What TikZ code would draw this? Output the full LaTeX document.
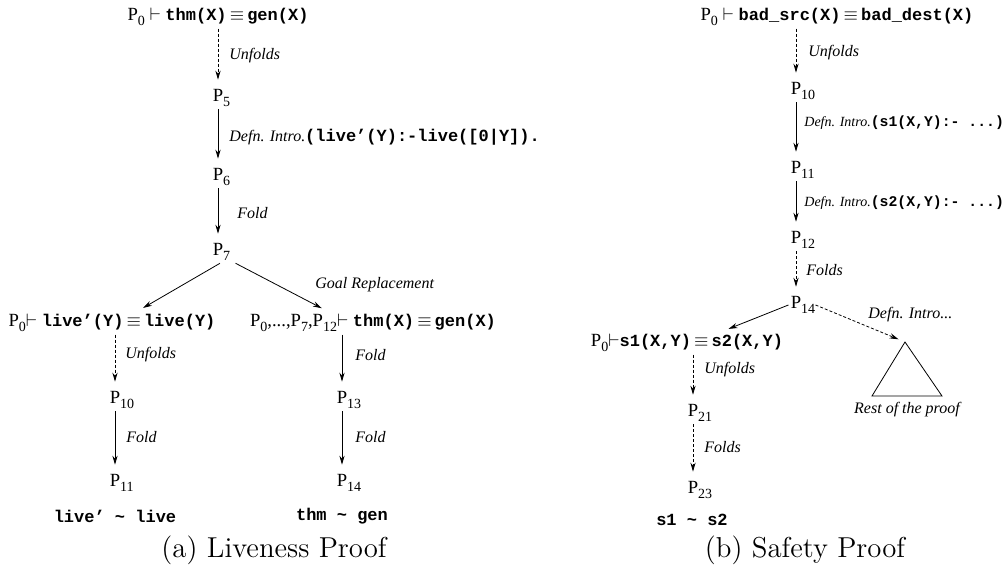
\documentclass[tikz,border=0pt]{standalone}
\usepackage{fontspec}
\usepackage{amsmath}
\usetikzlibrary{arrows.meta}

\newfontfamily\tms{Liberation Serif}
\newfontfamily\crr{Liberation Mono}
\newcommand\cd[1]{{\crr\upshape\bfseries\fontsize{8.5}{10}\selectfont #1}}
\newcommand\cds[1]{{\crr\upshape\bfseries\fontsize{7.4}{9}\selectfont #1}}
\newcommand\sbs[1]{\raisebox{-0.3em}{\fontsize{7}{8}\selectfont #1}}
\newcommand\Pn[1]{P\sbs{#1}}
\newcommand\Pl[1]{P\rlap{\sbs{#1}}}

\tikzset{
  pn/.style={font=\tms\fontsize{9.3}{11}\selectfont, inner sep=1pt},
  lbl/.style={font=\tms\itshape\fontsize{8}{10}\selectfont, anchor=west, inner sep=0pt},
  lbls/.style={lbl, font=\tms\itshape\fontsize{7}{9}\selectfont},
  res/.style={inner sep=0pt},
  capt/.style={font=\fontsize{14.4}{17}\selectfont, inner sep=0pt},
  arr/.style={-{Stealth[length=4.5pt,width=2.6pt]}, thin, shorten >=3.5pt},
  darr/.style={arr, dash pattern=on 1.5pt off 1pt},
}

\begin{document}
\begin{tikzpicture}[x=0.5pt,y=-0.5pt]
    \useasboundingbox (0,0) rectangle (1008,572);

    % Liveness proof
    \node[pn] (top) at (218,17) {\Pn{0} $\vdash$ \cd{thm(X)}$\,\equiv\,$\cd{gen(X)}};
    \node[pn] (p5) at (218,98) {\Pl{5}};
    \node[pn] (p6) at (218,177) {\Pl{6}};
    \node[pn] (p7) at (218,252) {\Pl{7}};
    \node[pn] (live) at (112,323) {\Pn{0}$\vdash$ \cd{live’(Y)}$\,\equiv\,$\cd{live(Y)}};
    \node[pn] (goal) at (373,323) {\Pn{0},...,\Pn{7},\Pn{12}$\vdash$ \cd{thm(X)}$\,\equiv\,$\cd{gen(X)}};
    \node[pn] (p10) at (115,400) {\Pl{10}};
    \node[pn] (p11) at (115,483) {\Pl{11}};
    \node[pn] (p13) at (342,400) {\Pl{13}};
    \node[pn] (p14) at (342,483) {\Pl{14}};
    \node[res] (resa) at (115,516) {\cd{live’ \textasciitilde{} live}};
    \node[res] (resb) at (342,516) {\cd{thm \textasciitilde{} gen}};

    \draw[darr] (top) -- (p5);
    \draw[arr] (p5) -- (p6);
    \draw[arr] (p6) -- (p7);
    \draw[arr] ([xshift=1pt]p7.south) -- ([xshift=12.5pt]live.north);
    \draw[arr] ([xshift=5pt]p7.south east) -- ([xshift=-22.5pt]goal.north);
    \draw[darr] (live.south -| p10) -- (p10);
    \draw[arr] (p10) -- (p11);
    \draw[arr] (goal.south -| p13) -- (p13);
    \draw[arr] (p13) -- (p14);

    \node[lbl] at (229,56) {Unfolds};
    \node[lbl] at (229,137) {Defn. Intro.\cd{(live’(Y):-live([0|Y]).}};
    \node[lbl] at (237,213) {Fold};
    \node[lbl] at (315,285) {Goal Replacement};
    \node[lbl] at (125,355) {Unfolds};
    \node[lbl] at (355,355) {Fold};
    \node[lbl] at (126,437) {Fold};
    \node[lbl] at (355,437) {Fold};

    \node[capt] (capa) at (274,550) {(a) Liveness Proof};

    % Safety proof
    \node[pn] (topb) at (837,17) {\Pn{0} $\vdash$ \cd{bad\_src(X)}$\,\equiv\,$\cd{bad\_dest(X)}};
    \node[pn] (q10) at (796,91) {\Pl{10}};
    \node[pn] (q11) at (796,170) {\Pl{11}};
    \node[pn] (q12) at (796,240) {\Pl{12}};
    \node[pn] (q14) at (796,305) {\Pl{14}};
    \node[pn] (sone) at (687,343) {\Pn{0}$\vdash$\cd{s1(X,Y)}$\,\equiv\,$\cd{s2(X,Y)}};
    \node[pn] (q21) at (693,413) {\Pl{21}};
    \node[pn] (q23) at (693,490) {\Pl{23}};
    \node[res] (resc) at (692,520) {\cd{s1 \textasciitilde{} s2}};
    \coordinate (rest) at (905,342);

    \draw[darr] (topb.south -| q10) -- (q10);
    \draw[arr] (q10) -- (q11);
    \draw[arr] (q11) -- (q12);
    \draw[darr] (q12) -- (q14);
    \draw[arr] (q14.west) -- ([xshift=17.5pt]sone.north);
    \draw[darr] ([xshift=6pt]q14.east) -- (rest);
    \draw[darr] (sone.south -| q21) -- (q21);
    \draw[darr] (q21) -- (q23);

    % Rest of the proof
    \draw (rest) -- (872,396) -- (942,396) -- cycle;

    \node[lbl] at (808,53) {Unfolds};
    \node[lbls] at (804,123) {Defn. Intro.\cds{(s1(X,Y):- ...)}};
    \node[lbls] at (804,203) {Defn. Intro.\cds{(s2(X,Y):- ...)}};
    \node[lbl] at (806,270) {Folds};
    \node[lbl] at (868,315) {Defn. Intro...};
    \node[lbl] at (704,370) {Unfolds};
    \node[lbl] at (704,447) {Folds};
    \node[lbl, anchor=center] at (907,410) {Rest of the proof};

    \node[capt] (capb) at (805,550) {(b) Safety Proof};
\end{tikzpicture}
\end{document}
